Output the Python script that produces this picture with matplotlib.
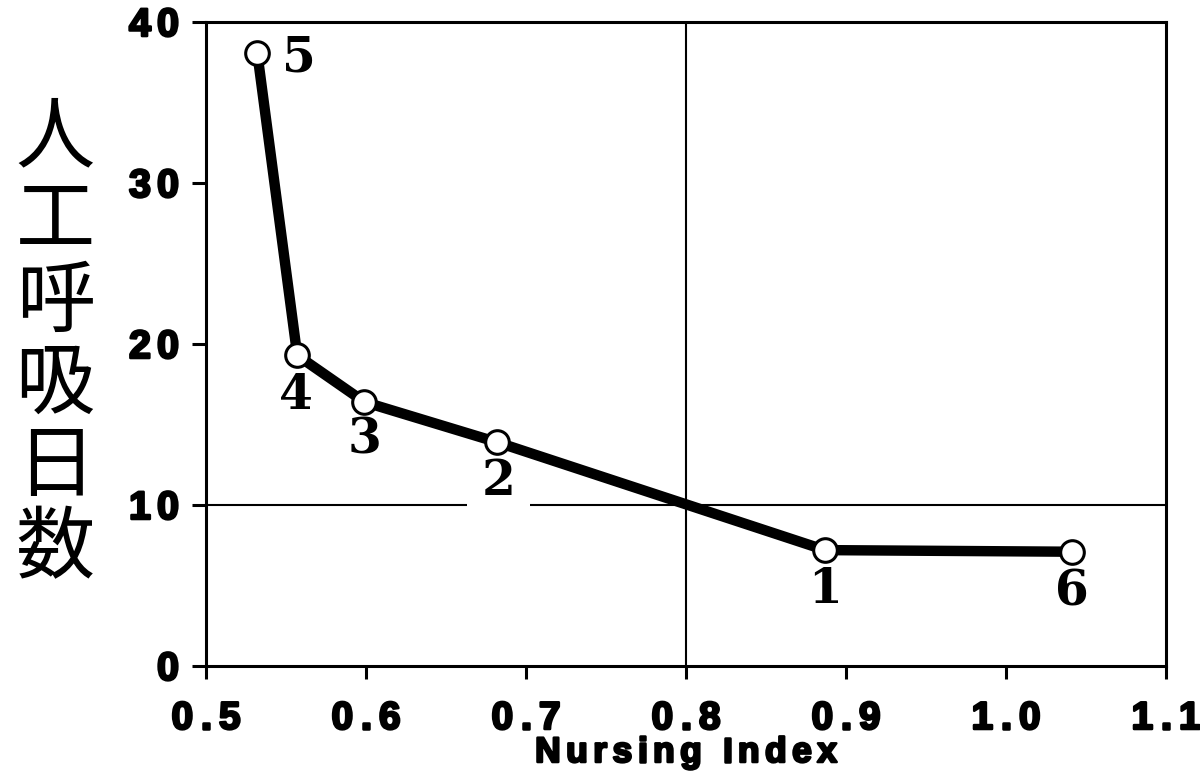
import matplotlib
matplotlib.use("Agg")
import matplotlib.pyplot as plt
import matplotlib.transforms as mtransforms
import matplotlib.patheffects as pe
from matplotlib.font_manager import FontProperties, findfont
from matplotlib.ft2font import FT2Font

# Nursing index vs. days on mechanical ventilation, per case group
nursing_index = [0.532, 0.557, 0.599, 0.682, 0.887, 1.041]
vent_days = [38.1, 19.3, 16.4, 13.9, 7.2, 7.1]
point_labels = ["5", "4", "3", "2", "1", "6"]
# label offsets in points (dx, dy) for each case number
label_offsets = [(30, -4), (-1, -29), (0, -27), (1, -28), (0, -28), (0, -29)]

x_ticks = [0.5, 0.6, 0.7, 0.8, 0.9, 1.0, 1.1]
x_tick_labels = ["0.5", "0.6", "0.7", "0.8", "0.9", "1.0", "1.1"]
y_ticks = [0, 10, 20, 30, 40]
y_tick_labels = ["0", "10", "20", "30", "40"]
x_label = "Nursing Index"
y_label = "人工呼吸日数"
ref_x = 0.8
ref_y = 10

DPI = 100
fig = plt.figure(figsize=(12, 7.74), dpi=DPI)
ax = fig.add_axes([0.1717, 0.1395, 0.8, 0.832])

ax.set_xlim(0.5, 1.1)
ax.set_ylim(0, 40)

ax.axvline(ref_x, color="black", lw=1.5, zorder=1)
ax.axhline(ref_y, color="black", lw=1.5, zorder=1)

ax.plot(nursing_index, vent_days, color="black", lw=7.5, solid_capstyle="round",
        solid_joinstyle="round", zorder=3)
ax.plot(nursing_index, vent_days, "o", ms=17, mfc="white", mec="black", mew=2.2,
        zorder=4)

for x, y, lab, (dx, dy) in zip(nursing_index, vent_days, point_labels, label_offsets):
    bbox = None
    if lab == "2":
        bbox = dict(boxstyle="square,pad=0.3", fc="white", ec="none")
    ax.annotate(lab, (x, y), xytext=(dx, dy), textcoords="offset points",
                ha="center", va="center", fontsize=35, fontweight="bold",
                family="DejaVu Serif", bbox=bbox, zorder=2)

ax.set_xticks(x_ticks)
ax.set_yticks(y_ticks)
ax.set_xticklabels([])
ax.set_yticklabels([])

for side in ["left", "right", "top", "bottom"]:
    ax.spines[side].set_linewidth(2.2)
ax.tick_params(axis="y", direction="out", length=10, width=2.2)
ax.tick_params(axis="x", direction="out", length=9, width=2.2)

heavy = [pe.withStroke(linewidth=1.8, foreground="black")]


def char_advances(s, prop, size_pt):
    font = FT2Font(findfont(prop))
    font.set_size(size_pt, DPI)
    return [font.load_char(ord(c)).linearHoriAdvance / 65536 for c in s]


def tracked_text(x, y, s, transform, size, track, ha="center", dx=0, dy=0):
    """Draw heavy bold sans text with extra letter spacing (pixels)."""
    prop = FontProperties(family="Liberation Sans", weight="bold", size=size)
    adv = char_advances(s, prop, size)
    total = sum(adv) + track * (len(s) - 1)
    pos = {"center": -total / 2, "right": -total, "left": 0}[ha] + dx
    for c, a in zip(s, adv):
        t = mtransforms.offset_copy(transform, fig=fig, x=pos, y=dy, units="dots")
        fig.text(x, y, c, transform=t, ha="left", va="baseline",
                 fontproperties=prop, path_effects=heavy)
        pos += a + track


xtrans = mtransforms.blended_transform_factory(ax.transData, ax.transAxes)
ytrans = mtransforms.blended_transform_factory(ax.transAxes, ax.transData)

for xv, lab in zip(x_ticks, x_tick_labels):
    tracked_text(xv, 0, lab, xtrans, 28, 7.5, ha="center", dy=-63)
for yv, lab in zip(y_ticks, y_tick_labels):
    tracked_text(0, yv, lab, ytrans, 28.5, 6, ha="right", dx=-27, dy=-14)

tracked_text(0.5, 0, x_label, ax.transAxes, 25.5, 5.5, ha="center", dy=-96)

fig.text(0.046, 0.555, "\n".join(y_label), ha="center", va="center",
         fontsize=57, family=["Noto Sans CJK JP", "DejaVu Sans"],
         linespacing=1.02)

fig.savefig("out.png", dpi=DPI)
